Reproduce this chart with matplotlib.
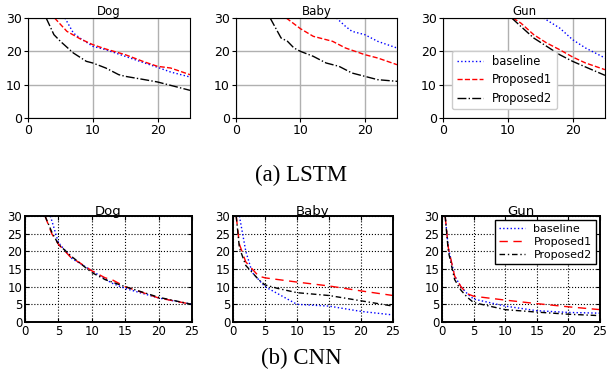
import matplotlib
matplotlib.use("Agg")
import matplotlib.pyplot as plt

# ---------------- LSTM (top row) ----------------
lstm_titles = ["Dog", "Baby", "Gun"]
lstm_base_x = [[5.7, 7, 8, 10, 12, 15, 18, 20, 22, 25],
               [15.6, 17, 18, 20, 22, 25],
               [15.5, 18, 20, 22, 25]]
lstm_base_y = [[30, 25.5, 24, 21.5, 20.5, 18.5, 16.5, 15.2, 13.8, 12.3],
               [30, 27.5, 26, 25, 23, 21],
               [30, 27, 23.5, 21, 18]]
lstm_p1_x = [[4.1, 6, 8, 10, 12, 15, 18, 20, 22, 25],
             [7.8, 10, 12, 15, 17, 20, 22, 25],
             [10.8, 12, 14, 16, 18, 20, 22, 25]]
lstm_p1_y = [[30, 26, 23.8, 22, 20.7, 19, 16.8, 15.5, 15, 13],
             [30, 26.8, 24.5, 23, 21, 19, 18, 16],
             [30, 28.5, 25, 22.5, 20.5, 18.3, 16.5, 14.5]]
lstm_p2_x = [[2.8, 4, 5, 7, 9, 10, 12, 14, 15, 18, 20, 22, 25],
             [5.3, 7, 8, 9, 10, 12, 14, 16, 18, 20, 22, 25],
             [10.6, 12, 14, 16, 18, 20, 22, 25]]
lstm_p2_y = [[30, 25, 23, 19.5, 17, 16.5, 15, 13, 12.5, 11.5, 10.8, 9.8, 8.3],
             [30, 24, 23, 21, 20, 18.5, 16.5, 15.5, 13.5, 12.5, 11.5, 11],
             [30, 27.5, 24, 21.5, 19, 17, 15.3, 12.8]]

# ---------------- CNN (bottom row) ----------------
cnn_titles = ["Dog", "Baby", "Gun"]
cnn_base_x = [[3.8, 5, 7, 10, 13, 15, 20, 25],
              [1, 1.5, 2, 3, 4, 5, 7, 10, 15, 20, 25],
              [0.5, 1, 2, 3, 4, 5, 10, 15, 20, 25]]
cnn_base_y = [[30, 22.5, 18, 14.5, 11, 9.5, 6.8, 5],
              [30, 25, 20, 14, 12, 10, 8, 5, 4.5, 3, 2],
              [30, 21, 13, 10, 8, 6.5, 4.5, 3.2, 2.7, 2.5]]
cnn_p1_x = [[3, 4, 5, 7, 8, 10, 12, 13, 15, 20, 25],
            [0.5, 1, 2, 3, 4, 5, 10, 15, 20, 25],
            [0.5, 1, 2, 3, 4, 5, 10, 15, 20, 25]]
cnn_p1_y = [[30, 25, 22, 18, 17, 14.5, 12.5, 12, 10, 6.8, 5],
            [30, 22, 17, 15, 13, 12.5, 11.3, 10.2, 8.8, 7.5],
            [30, 21, 13, 10, 8, 7.3, 6.2, 5.2, 4.3, 3.5]]
cnn_p2_x = [[3, 4, 5, 7, 10, 12, 15, 20, 25],
            [0.5, 1, 2, 3, 4, 5, 7, 10, 15, 20, 25],
            [0.5, 1, 2, 3, 4, 5, 10, 15, 20, 25]]
cnn_p2_y = [[30, 25.5, 22, 18.5, 14, 12, 10, 7, 5],
            [30, 21, 16, 14, 12, 10.5, 9.5, 8.3, 7.5, 6, 4.5],
            [30, 20, 12, 9, 7, 5.5, 3.5, 2.8, 2.2, 1.8]]

labels = ["baseline", "Proposed1", "Proposed2"]

W, H = 608, 383
fig = plt.figure(figsize=(W / 100, H / 100), dpi=100)

def rect(l, r, t, b):
    return [l / W, 1 - b / H, (r - l) / W, (b - t) / H]

top_pos = [(28, 190, 18, 118), (236, 397, 18, 118), (443, 605, 18, 118)]
bot_pos = [(25, 192, 216, 322), (233, 393, 216, 322), (442, 600, 216, 322)]

for i in range(3):
    ax = fig.add_axes(rect(*top_pos[i]))
    ax.plot(lstm_base_x[i], lstm_base_y[i], color="blue", ls=":", lw=1, label=labels[0])
    ax.plot(lstm_p1_x[i], lstm_p1_y[i], color="red", ls="--", lw=1, label=labels[1])
    ax.plot(lstm_p2_x[i], lstm_p2_y[i], color="black", ls="-.", lw=1, label=labels[2])
    ax.set_xlim(0, 25)
    ax.set_ylim(0, 30)
    ax.set_xticks([0, 10, 20])
    ax.set_yticks([0, 10, 20, 30])
    ax.grid(True, color="#b0b0b0", lw=1)
    ax.set_axisbelow(True)
    ax.tick_params(labelsize=9, length=3, pad=1.5)
    ax.set_title(lstm_titles[i], fontsize=8.5, pad=2)
    if i == 2:
        ax.legend(loc="lower left", bbox_to_anchor=(0.02, 0.03), fontsize=8.3,
                  handlelength=2.3, borderpad=0.4, labelspacing=0.45, framealpha=1)

for i in range(3):
    ax = fig.add_axes(rect(*bot_pos[i]))
    ax.plot(cnn_base_x[i], cnn_base_y[i], color="blue", ls=":", lw=1, label=labels[0])
    ax.plot(cnn_p1_x[i], cnn_p1_y[i], color="red", ls=(0, (6, 4)), lw=1, label=labels[1])
    ax.plot(cnn_p2_x[i], cnn_p2_y[i], color="black", ls=(0, (4, 2, 1, 2)), lw=1, label=labels[2])
    ax.set_xlim(0, 25)
    ax.set_ylim(0, 30)
    ax.set_xticks(range(0, 26, 5))
    ax.set_yticks(range(0, 31, 5))
    ax.grid(True, color="black", ls=":", lw=0.8)
    for s in ax.spines.values():
        s.set_linewidth(1.4)
    ax.tick_params(labelsize=8.5, direction="in", length=3, pad=2, top=True, right=True)
    ax.set_title(cnn_titles[i], fontsize=9.5, pad=1)
    if i == 2:
        leg = ax.legend(loc="upper right", fontsize=8, handlelength=2.3,
                        borderpad=0.35, labelspacing=0.25, fancybox=False, framealpha=1,
                        edgecolor="black", borderaxespad=0.4)
        leg.get_frame().set_linewidth(1)

fig.text(301 / W, 1 - 181 / H, "(a) LSTM", ha="center", va="baseline",
         family="Liberation Serif", fontsize=16.5)
fig.text(301 / W, 1 - 364 / H, "(b) CNN", ha="center", va="baseline",
         family="Liberation Serif", fontsize=16.5)

fig.savefig("out.png", dpi=100)
